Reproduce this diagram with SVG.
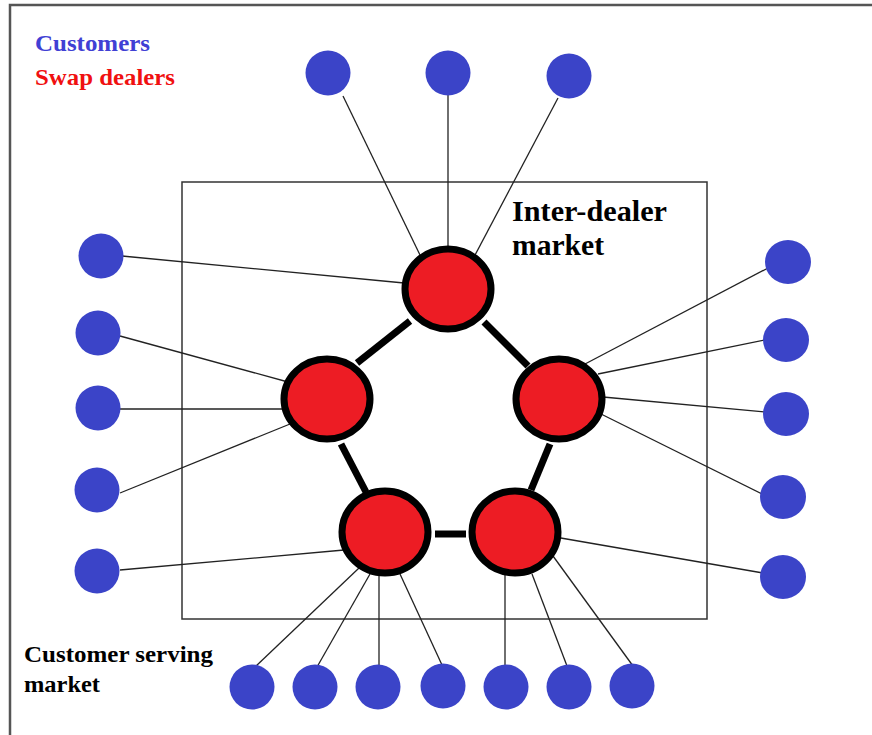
<svg xmlns="http://www.w3.org/2000/svg" width="872" height="735" viewBox="0 0 872 735">
  <style>
    .frame { fill: none; stroke: #555; stroke-width: 2.5; }
    .box { fill: none; stroke: #333; stroke-width: 1.5; }
    .link { stroke: #222; stroke-width: 1.3; fill: none; }
    .tie { stroke: #000; stroke-width: 7; fill: none; }
    .dealer { fill: #ed1c24; stroke: #000; stroke-width: 7; }
    .customer { fill: #3b44c8; }
    .lbl { font-family: "Liberation Serif", "Times New Roman", serif; font-weight: bold; }
  </style>

  <rect width="872" height="735" fill="#fff"/>
  <!-- outer frame (top and left edges) -->
  <path class="frame" d="M10 735 V5 H872"/>
  <!-- inter-dealer market box -->
  <rect class="box" x="182" y="182" width="525" height="437"/>

  <!-- legend -->
  <text class="lbl" x="35" y="51" font-size="24" fill="#4040d4" textLength="115" lengthAdjust="spacingAndGlyphs">Customers</text>
  <text class="lbl" x="35" y="85" font-size="24" fill="#f01010" textLength="140" lengthAdjust="spacingAndGlyphs">Swap dealers</text>

  <!-- market labels -->
  <text class="lbl" x="512" y="221" font-size="29" fill="#000" textLength="155" lengthAdjust="spacingAndGlyphs">Inter-dealer</text>
  <text class="lbl" x="512" y="255" font-size="29" fill="#000" textLength="92" lengthAdjust="spacingAndGlyphs">market</text>
  <text class="lbl" x="24" y="662" font-size="24" fill="#000" textLength="189" lengthAdjust="spacingAndGlyphs">Customer serving</text>
  <text class="lbl" x="24" y="692" font-size="24" fill="#000" textLength="76" lengthAdjust="spacingAndGlyphs">market</text>

  <g id="connectors">
    <!-- customer links: top -->
    <line class="link" x1="343" y1="96" x2="420" y2="255"/>
    <line class="link" x1="448" y1="95" x2="448" y2="252"/>
    <line class="link" x1="558" y1="98" x2="474" y2="257"/>
    <!-- customer links: left -->
    <line class="link" x1="122" y1="256" x2="404" y2="283"/>
    <line class="link" x1="120" y1="336" x2="288" y2="382"/>
    <line class="link" x1="120" y1="409" x2="286" y2="409"/>
    <line class="link" x1="120" y1="493" x2="290" y2="424"/>
    <line class="link" x1="120" y1="570" x2="344" y2="550"/>
    <!-- customer links: right -->
    <line class="link" x1="768" y1="268" x2="585" y2="364"/>
    <line class="link" x1="765" y1="340" x2="598" y2="374"/>
    <line class="link" x1="765" y1="412" x2="603" y2="397"/>
    <line class="link" x1="764" y1="495" x2="601" y2="414"/>
    <line class="link" x1="763" y1="573" x2="555" y2="537"/>
    <!-- customer links: bottom -->
    <line class="link" x1="255" y1="667" x2="359" y2="568"/>
    <line class="link" x1="317" y1="667" x2="370" y2="574"/>
    <line class="link" x1="379" y1="665" x2="379" y2="574"/>
    <line class="link" x1="442" y1="665" x2="400" y2="574"/>
    <line class="link" x1="505" y1="666" x2="505" y2="574"/>
    <line class="link" x1="567" y1="666" x2="532" y2="574"/>
    <line class="link" x1="633" y1="666" x2="553" y2="556"/>
    <!-- inter-dealer ties -->
    <line class="tie" x1="410" y1="321" x2="357" y2="363"/>
    <line class="tie" x1="484" y1="322" x2="528" y2="366"/>
    <line class="tie" x1="341" y1="444" x2="366" y2="492"/>
    <line class="tie" x1="550" y1="444" x2="531" y2="490"/>
    <line class="tie" x1="435" y1="534" x2="466" y2="534"/>
  </g>

  <!-- swap dealers -->
  <g id="dealer-top"><ellipse class="dealer" cx="448" cy="289" rx="43" ry="40"/></g>
  <g id="dealer-left"><ellipse class="dealer" cx="327" cy="399" rx="43" ry="40"/></g>
  <g id="dealer-right"><ellipse class="dealer" cx="559" cy="399" rx="43" ry="40"/></g>
  <g id="dealer-bottom-left"><ellipse class="dealer" cx="385" cy="532" rx="43" ry="41"/></g>
  <g id="dealer-bottom-right"><ellipse class="dealer" cx="515" cy="532" rx="43" ry="41"/></g>

  <!-- customers: top row -->
  <g id="customer-t1"><circle class="customer" cx="328" cy="73" r="22.5"/></g>
  <g id="customer-t2"><circle class="customer" cx="448" cy="73" r="22.5"/></g>
  <g id="customer-t3"><circle class="customer" cx="569" cy="76" r="22.5"/></g>
  <!-- customers: left column -->
  <g id="customer-l1"><circle class="customer" cx="101" cy="256" r="22.5"/></g>
  <g id="customer-l2"><circle class="customer" cx="98" cy="333" r="22.5"/></g>
  <g id="customer-l3"><circle class="customer" cx="98" cy="408" r="22.5"/></g>
  <g id="customer-l4"><circle class="customer" cx="97" cy="490" r="22.5"/></g>
  <g id="customer-l5"><circle class="customer" cx="97" cy="571" r="22.5"/></g>
  <!-- customers: right column -->
  <g id="customer-r1"><ellipse class="customer" cx="788" cy="262" rx="23" ry="22"/></g>
  <g id="customer-r2"><ellipse class="customer" cx="786" cy="340" rx="23" ry="22"/></g>
  <g id="customer-r3"><ellipse class="customer" cx="786" cy="414" rx="23" ry="22"/></g>
  <g id="customer-r4"><ellipse class="customer" cx="783" cy="497" rx="23" ry="22"/></g>
  <g id="customer-r5"><ellipse class="customer" cx="783" cy="577" rx="23" ry="22"/></g>
  <!-- customers: bottom row -->
  <g id="customer-b1"><circle class="customer" cx="252" cy="687" r="22.5"/></g>
  <g id="customer-b2"><circle class="customer" cx="315" cy="687" r="22.5"/></g>
  <g id="customer-b3"><circle class="customer" cx="378" cy="687" r="22.5"/></g>
  <g id="customer-b4"><circle class="customer" cx="443" cy="686" r="22.5"/></g>
  <g id="customer-b5"><circle class="customer" cx="506" cy="687" r="22.5"/></g>
  <g id="customer-b6"><circle class="customer" cx="569" cy="687" r="22.5"/></g>
  <g id="customer-b7"><circle class="customer" cx="632" cy="686" r="22.5"/></g>
</svg>
